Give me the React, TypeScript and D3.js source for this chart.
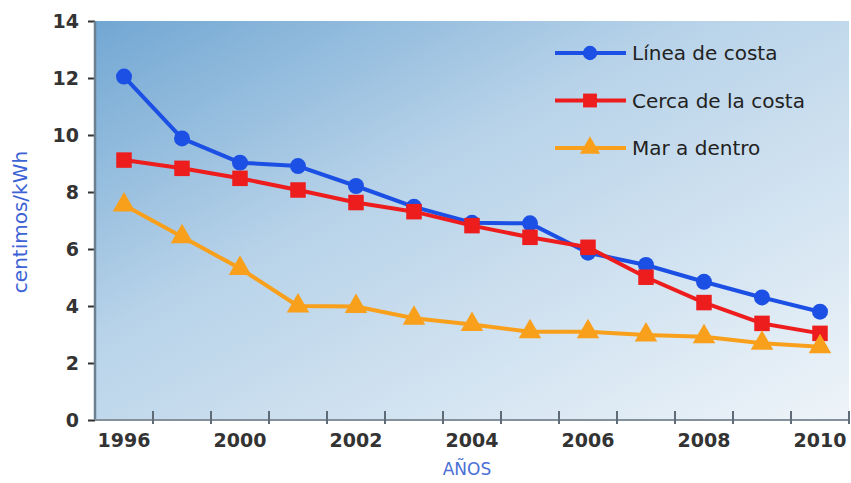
import { useEffect, useRef } from "react";
import * as d3 from "d3";

// x positions: 13 periods, labelled every other one
const tickLabels = ["1996", "", "2000", "", "2002", "", "2004", "", "2006", "", "2008", "", "2010"];

const lineaCosta = [12.05, 9.88, 9.03, 8.91, 8.21, 7.48, 6.92, 6.9, 5.87, 5.44, 4.85, 4.3, 3.8];
const cercaCosta = [9.12, 8.83, 8.48, 8.07, 7.63, 7.31, 6.82, 6.41, 6.06, 5.01, 4.12, 3.39, 3.04];
const marDentro = [7.54, 6.43, 5.32, 4.0, 3.98, 3.57, 3.35, 3.1, 3.1, 2.98, 2.92, 2.69, 2.57];

const yTicks = [0, 2, 4, 6, 8, 10, 12, 14];

const series = [
    { name: "Línea de costa", values: lineaCosta, color: "#1c4fe4", symbol: d3.symbolCircle, size: 200 },
    { name: "Cerca de la costa", values: cercaCosta, color: "#ee1d1d", symbol: d3.symbolSquare, size: 240 },
    { name: "Mar a dentro", values: marDentro, color: "#f8a01c", symbol: d3.symbolTriangle, size: 220 },
];

export default function App() {
    const svgRef = useRef<SVGSVGElement>(null);

    useEffect(() => {
        if (!svgRef.current) return;
        const svg = d3.select(svgRef.current);
        svg.selectAll("*").remove();

        const width = 851;
        const height = 483;
        const plot = { left: 95, right: 849, top: 21, bottom: 420 };

        svg.attr("width", width).attr("height", height);

        const x = d3.scaleBand<number>()
            .domain(d3.range(tickLabels.length))
            .range([plot.left, plot.right]);

        const y = d3.scaleLinear()
            .domain([0, 14])
            .range([plot.bottom, plot.top]);

        // Background gradient
        const defs = svg.append("defs");
        const grad = defs.append("linearGradient")
            .attr("id", "bg")
            .attr("x1", "0%").attr("y1", "0%")
            .attr("x2", "100%").attr("y2", "100%");
        grad.append("stop").attr("offset", "0%").attr("stop-color", "#72a7d3");
        grad.append("stop").attr("offset", "40%").attr("stop-color", "#b8d3e9");
        grad.append("stop").attr("offset", "100%").attr("stop-color", "#eef4f9");

        svg.append("rect")
            .attr("x", plot.left).attr("y", plot.top)
            .attr("width", plot.right - plot.left)
            .attr("height", plot.bottom - plot.top)
            .attr("fill", "url(#bg)");

        // Y axis
        const yAxis = svg.append("g")
            .attr("transform", `translate(${plot.left},0)`)
            .call(d3.axisLeft(y).tickValues(yTicks).tickSize(7).tickPadding(9));
        yAxis.select(".domain").remove();
        yAxis.selectAll(".tick line").attr("stroke", "#333").attr("stroke-width", 2);
        yAxis.selectAll(".tick text")
            .attr("font-family", "DejaVu Sans, Verdana, sans-serif")
            .attr("font-size", 19)
            .attr("font-weight", "bold")
            .attr("fill", "#333");

        svg.append("line")
            .attr("x1", plot.left).attr("x2", plot.left)
            .attr("y1", plot.top).attr("y2", plot.bottom)
            .attr("stroke", "#6d8090").attr("stroke-width", 2.5);

        // X axis
        svg.append("line")
            .attr("x1", plot.left).attr("x2", plot.right)
            .attr("y1", plot.bottom).attr("y2", plot.bottom)
            .attr("stroke", "#84909b").attr("stroke-width", 2);

        svg.append("g")
            .selectAll("line")
            .data(x.domain())
            .join("line")
            .attr("x1", d => x(d)! + x.bandwidth())
            .attr("x2", d => x(d)! + x.bandwidth())
            .attr("y1", plot.bottom - 9)
            .attr("y2", plot.bottom + 4)
            .attr("stroke", "#5f6b76")
            .attr("stroke-width", 2);

        svg.append("g")
            .selectAll("text")
            .data(x.domain())
            .join("text")
            .attr("x", d => x(d)! + x.bandwidth() / 2)
            .attr("y", 447)
            .attr("text-anchor", "middle")
            .attr("font-family", "DejaVu Sans, Verdana, sans-serif")
            .attr("font-size", 19)
            .attr("font-weight", "bold")
            .attr("fill", "#333")
            .text(d => tickLabels[d]);

        // Axis titles
        svg.append("text")
            .attr("x", 467).attr("y", 475)
            .attr("text-anchor", "middle")
            .attr("font-family", "DejaVu Sans, Verdana, sans-serif")
            .attr("font-size", 17)
            .attr("fill", "#4a6fd6")
            .text("AÑOS");

        svg.append("text")
            .attr("transform", "translate(27,222) rotate(-90)")
            .attr("text-anchor", "middle")
            .attr("font-family", "DejaVu Sans, Verdana, sans-serif")
            .attr("font-size", 20)
            .attr("fill", "#3d63d6")
            .text("centimos/kWh");

        // Lines and markers
        const cx = (i: number) => x(i)! + x.bandwidth() / 2;
        const line = d3.line<number>()
            .x((_, i) => cx(i))
            .y(d => y(d));

        series.forEach(s => {
            svg.append("path")
                .datum(s.values)
                .attr("fill", "none")
                .attr("stroke", s.color)
                .attr("stroke-width", 4)
                .attr("stroke-linejoin", "round")
                .attr("d", line);

            svg.append("g")
                .selectAll("path")
                .data(s.values)
                .join("path")
                .attr("transform", (d, i) => `translate(${cx(i)},${y(d)})`)
                .attr("d", d3.symbol().type(s.symbol).size(s.size)())
                .attr("fill", s.color);
        });

        // Legend
        const legend = svg.append("g");
        series.forEach((s, i) => {
            const ly = 53 + i * 47.5;
            legend.append("line")
                .attr("x1", 555).attr("x2", 626)
                .attr("y1", ly).attr("y2", ly)
                .attr("stroke", s.color).attr("stroke-width", 4);
            legend.append("path")
                .attr("transform", `translate(590,${ly})`)
                .attr("d", d3.symbol().type(s.symbol).size(s.size * 0.8)())
                .attr("fill", s.color);
            legend.append("text")
                .attr("x", 632).attr("y", ly)
                .attr("dy", "0.35em")
                .attr("font-family", "DejaVu Sans, Verdana, sans-serif")
                .attr("font-size", 20)
                .attr("fill", "#222")
                .text(s.name);
        });
    }, []);

    return (
        <div style={{ position: "absolute", left: 0, top: 0, width: 851, height: 483, background: "#fff" }}>
            <svg ref={svgRef} style={{ display: "block" }}></svg>
        </div>
    );
}
